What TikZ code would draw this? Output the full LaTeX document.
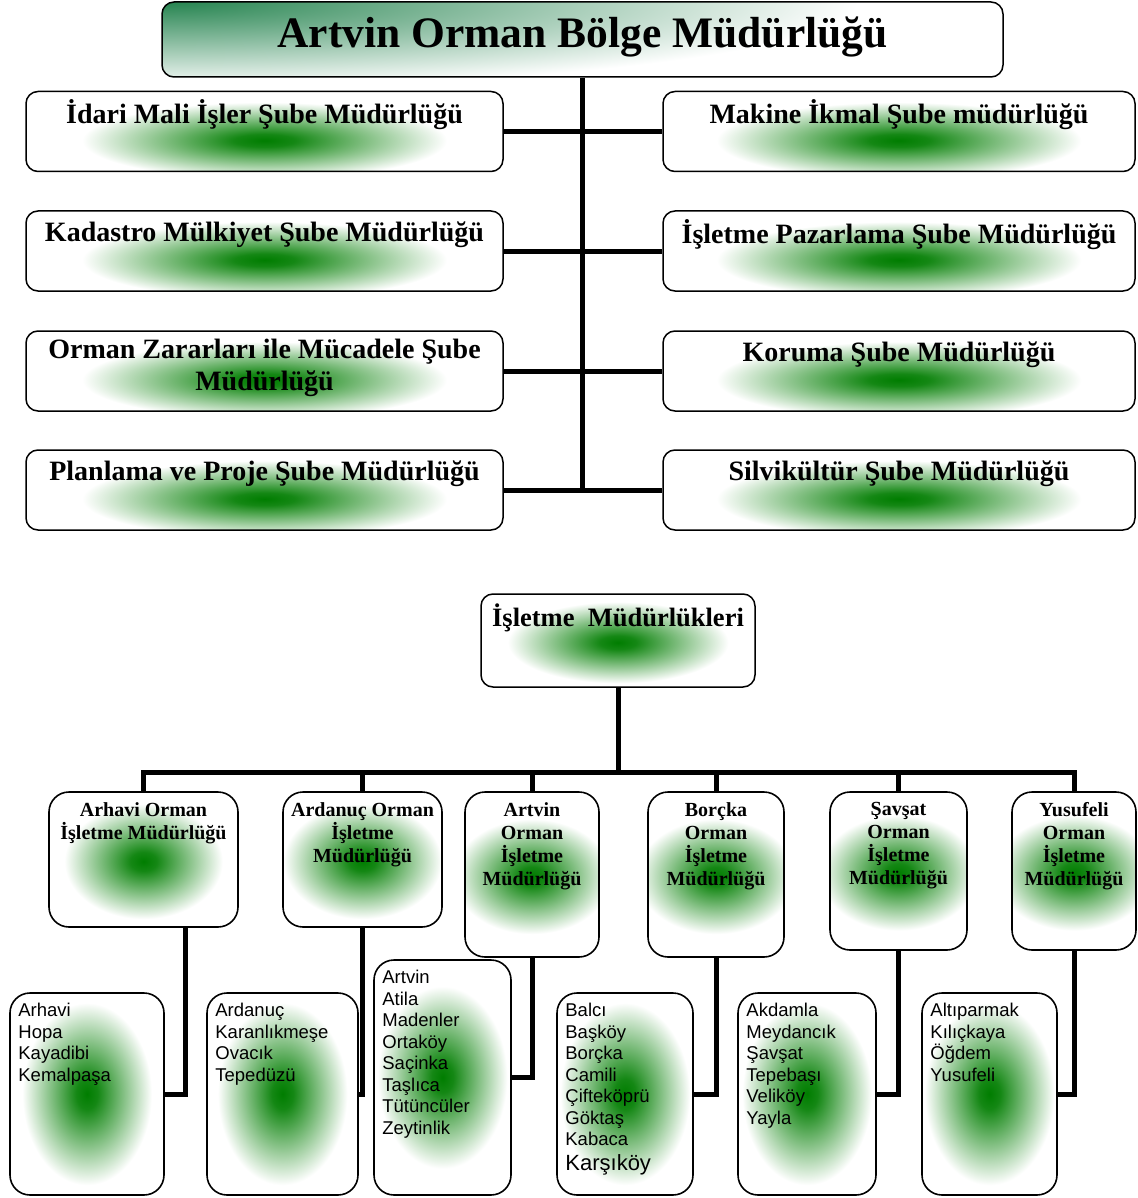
\documentclass[tikz,border=0pt]{standalone}
\usepackage{fontspec}
\setmainfont{Liberation Serif}
\newfontfamily\listfont{Liberation Sans}
\usetikzlibrary{positioning}

\definecolor{glowGreen}{RGB}{0,125,0}
\definecolor{titleGreen}{RGB}{38,132,80}
\pgfdeclareradialshading{glow}{\pgfpoint{0bp}{0bp}}{color(0bp)=(glowGreen); color(2bp)=(glowGreen!92!white); color(12bp)=(white); color(50bp)=(white)}
\pgfdeclareradialshading{titleglow}{\pgfpoint{0bp}{0bp}}{color(0bp)=(titleGreen); color(12bp)=(white); color(50bp)=(white)}

\begin{document}
\begin{tikzpicture}[x=1pt,y=-1pt,
    box/.style={draw, fill=white, line width=1.5pt, rounded corners=12pt, inner sep=0pt},
    glow/.style n args={3}{path picture={\shade[shading=glow] ([yshift=#3]path picture bounding box.center) ellipse (#1 and #2);}},
    subbox/.style={box, minimum height=80pt, glow={380pt}{80pt}{-9pt}},
    unitbox/.style={box, line width=1.6pt, rounded corners=20pt, glow={165pt}{120pt}{-2pt}},
    listbox/.style={box, line width=1.6pt, rounded corners=20pt, glow={135pt}{190pt}{0pt}},
    conn/.style={line width=5pt},
    boxtext/.style={inner sep=0pt, align=center, execute at begin node=\strut},
    subtext/.style={boxtext, font=\bfseries\fontsize{28}{32}\selectfont},
    unittext/.style={boxtext, font=\bfseries\fontsize{20}{23}\selectfont},
    listtext/.style={inner sep=0pt, align=left, font=\listfont\fontsize{18.5}{21.5}\selectfont, execute at begin node=\strut}]
    \fill[white] (0,0) rectangle (1137,1198);
    \useasboundingbox (0,0) rectangle (1137,1198);
    % bolge mudurlugu
    \node[box, minimum width=841pt, minimum height=75pt,
          path picture={\shade[shading=titleglow] (path picture bounding box.north west) ellipse (1450pt and 180pt);}]
          (bolge) at (582.5,39.5) {};
    \node[boxtext, font=\bfseries\fontsize{43.5}{49.5}\selectfont, below=11pt of bolge.north] (bolge-txt) {Artvin Orman Bölge Müdürlüğü};
    % sube mudurlukleri
    \foreach \nm/\yy/\txt in {idari/131.5/{İdari Mali İşler Şube Müdürlüğü},
                             kadastro/251/{Kadastro Mülkiyet Şube Müdürlüğü},
                             zarar/371/{Orman Zararları ile Mücadele Şube\\Müdürlüğü},
                             planlama/490/{Planlama ve Proje Şube Müdürlüğü}}
        {   \node[subbox, minimum width=477pt] (\nm) at (264.5,\yy) {};
            \node[subtext, below=9pt of \nm.north] (\nm-txt) {\txt};
        }
    \foreach \nm/\yy/\txt in {makine/131.5/{Makine İkmal Şube müdürlüğü},
                             pazarlama/251/{İşletme Pazarlama Şube Müdürlüğü},
                             koruma/371/{Koruma Şube Müdürlüğü},
                             silvikultur/490/{Silvikültür Şube Müdürlüğü}}
        {   \node[subbox, minimum width=472pt] (\nm) at (899,\yy) {};
            \node[subtext, below=9pt of \nm.north] (\nm-txt) {\txt};
        }
    \draw[conn] (bolge.south) -- (bolge.south |- planlama.east);
    \foreach \lt/\rt in {idari/makine, kadastro/pazarlama, zarar/koruma, planlama/silvikultur}
        \draw[conn] (\lt.east) -- (\rt.west);
    % isletme mudurlukleri
    \node[box, minimum width=274pt, minimum height=93pt, glow={230pt}{85pt}{-2pt}] (isletme) at (618,640.5) {};
    \node[boxtext, font=\bfseries\fontsize{26.5}{30.5}\selectfont, below=10pt of isletme.north] (isletme-txt) {İşletme\ \ Müdürlükleri};
    \foreach \nm/\xx/\ww/\hh/\txt in {arhavi/143.5/189/135/{Arhavi Orman\\İşletme Müdürlüğü},
                                    ardanuc/362.5/159/135/{Ardanuç Orman\\İşletme\\Müdürlüğü},
                                    artvin/532/134/165/{Artvin\\Orman\\İşletme\\Müdürlüğü},
                                    borcka/716/136/165/{Borçka\\Orman\\İşletme\\Müdürlüğü},
                                    savsat/898.5/137/158/{Şavşat\\Orman\\İşletme\\Müdürlüğü},
                                    yusufeli/1074/124/158/{Yusufeli\\Orman\\İşletme\\Müdürlüğü}}
        {   \node[unitbox, minimum width=\ww pt, minimum height=\hh pt] (\nm) at (\xx,{792+\hh/2}) {};
            \node[unittext, below=11pt of \nm.north] (\nm-txt) {\txt};
        }
    % seflikler
    \foreach \nm/\xx/\ww/\tp/\txt in {arhavi/87/154/993/{Arhavi\\Hopa\\Kayadibi\\Kemalpaşa},
                                    ardanuc/282.5/151/993/{Ardanuç\\Karanlıkmeşe\\Ovacık\\Tepedüzü},
                                    artvin/442.5/137/960/{Artvin\\Atila\\Madenler\\Ortaköy\\Saçinka\\Taşlıca\\Tütüncüler\\Zeytinlik},
                                    borcka/625/136/993/{Balcı\\Başköy\\Borçka\\Camili\\Çifteköprü\\Göktaş\\Kabaca\\[3pt]{\fontsize{22}{25}\selectfont Karşıköy}},
                                    savsat/807/138/993/{Akdamla\\Meydancık\\Şavşat\\Tepebaşı\\Veliköy\\Yayla},
                                    yusufeli/989.5/135/993/{Altıparmak\\Kılıçkaya\\Öğdem\\Yusufeli}}
        {   \node[listbox, minimum width=\ww pt, minimum height={(1195-\tp)*1pt}] (\nm-list) at (\xx,{(1195+\tp)/2}) {};
            \node[listtext, below right=11pt and 9pt of \nm-list.north west] (\nm-list-txt) {\txt};
        }
    % baglantilar
    \coordinate (bus) at (618,772);
    \draw[conn] (isletme.south) -- (bus);
    \draw[conn] (arhavi.north) |- (bus) -| (yusufeli.north);
    \foreach \nm in {ardanuc,artvin,borcka,savsat}
        \draw[conn] (\nm.north) -- (\nm.north |- bus);
    \draw[conn] ([xshift=42pt]arhavi.south) |- (arhavi-list.east);
    \foreach \nm in {ardanuc,artvin,borcka,savsat,yusufeli}
        \draw[conn] (\nm.south) |- (\nm-list.east);
\end{tikzpicture}
\end{document}
